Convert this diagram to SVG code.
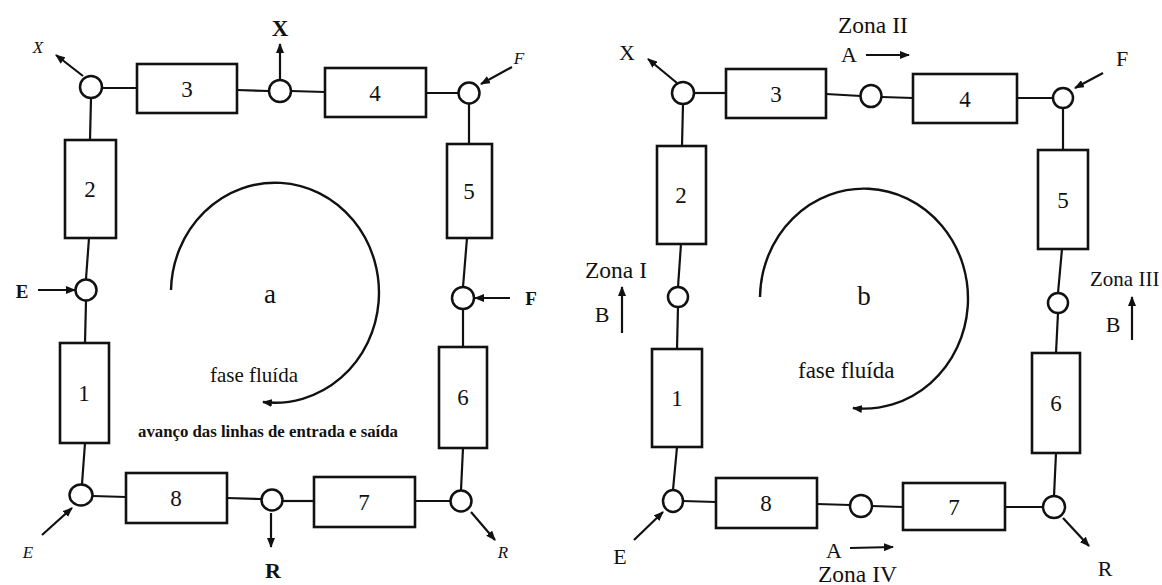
<svg xmlns="http://www.w3.org/2000/svg" width="1162" height="585" viewBox="0 0 1162 585">
<defs>
<marker id="ah" viewBox="0 0 10 8" refX="9" refY="4" markerWidth="10" markerHeight="8" markerUnits="userSpaceOnUse" orient="auto">
<path d="M0,0 L10,4 L0,8 z" fill="#111"/>
</marker>
</defs>
<style>
.box{fill:#fff;stroke:#111;stroke-width:2.6}
.nd{fill:#fff;stroke:#111;stroke-width:2.5}
.ln{fill:none;stroke:#111;stroke-width:2.2}
.ar{fill:none;stroke:#111;stroke-width:2.2;marker-end:url(#ah)}
.arc{fill:none;stroke:#111;stroke-width:2.4;marker-end:url(#ah)}
text{font-family:"Liberation Serif","Times New Roman",serif;fill:#111}
.num{font-size:23px;text-anchor:middle}
.it{font-style:italic;font-size:17px}
.bd{font-weight:bold;font-size:22px}
.lb{font-size:22px}
</style>
<rect width="1162" height="585" fill="#fff"/>

<!-- connectors -->
<g id="connectors">
<!-- panel a -->
<line class="ln" x1="102" y1="88" x2="137" y2="88"/>
<line class="ln" x1="237" y1="90" x2="269" y2="91"/>
<line class="ln" x1="291" y1="91" x2="325" y2="92"/>
<line class="ln" x1="426" y1="93" x2="459" y2="93"/>
<line class="ln" x1="469" y1="104" x2="469" y2="144"/>
<line class="ln" x1="467" y1="238" x2="463" y2="287"/>
<line class="ln" x1="463" y1="309" x2="463" y2="347"/>
<line class="ln" x1="463" y1="448" x2="461" y2="490"/>
<line class="ln" x1="450" y1="501" x2="415" y2="501"/>
<line class="ln" x1="314" y1="501" x2="283" y2="501"/>
<line class="ln" x1="261" y1="499" x2="227" y2="498"/>
<line class="ln" x1="126" y1="497" x2="93" y2="496"/>
<line class="ln" x1="82" y1="484" x2="85" y2="443"/>
<line class="ln" x1="85" y1="343" x2="86" y2="301"/>
<line class="ln" x1="86" y1="279" x2="89" y2="238"/>
<line class="ln" x1="90" y1="140" x2="91" y2="98"/>
<!-- panel a stream arrows -->
<line class="ar" x1="83" y1="76" x2="56" y2="55"/>
<line class="ar" x1="280" y1="80" x2="280" y2="44"/>
<line class="ar" x1="512" y1="67" x2="481" y2="84"/>
<line class="ar" x1="38" y1="290" x2="75" y2="290"/>
<line class="ar" x1="510" y1="298" x2="475" y2="298"/>
<line class="ar" x1="42" y1="535" x2="72" y2="508"/>
<line class="ar" x1="271" y1="513" x2="271" y2="547"/>
<line class="ar" x1="471" y1="512" x2="495" y2="540"/>
<path class="arc" d="M171,290 A104,110 0 1 1 263,402"/>

<!-- panel b -->
<line class="ln" x1="694" y1="93" x2="726" y2="93"/>
<line class="ln" x1="826" y1="94" x2="861" y2="96"/>
<line class="ln" x1="882" y1="97" x2="913" y2="98"/>
<line class="ln" x1="1017" y1="98" x2="1053" y2="98"/>
<line class="ln" x1="1063" y1="108" x2="1063" y2="150"/>
<line class="ln" x1="1062" y1="249" x2="1058" y2="293"/>
<line class="ln" x1="1058" y1="313" x2="1056" y2="353"/>
<line class="ln" x1="1056" y1="453" x2="1054" y2="496"/>
<line class="ln" x1="1043" y1="507" x2="1005" y2="507"/>
<line class="ln" x1="903" y1="507" x2="872" y2="506"/>
<line class="ln" x1="850" y1="505" x2="817" y2="504"/>
<line class="ln" x1="716" y1="502" x2="683" y2="501"/>
<line class="ln" x1="673" y1="490" x2="677" y2="447"/>
<line class="ln" x1="677" y1="349" x2="678" y2="307"/>
<line class="ln" x1="678" y1="287" x2="681" y2="244"/>
<line class="ln" x1="682" y1="146" x2="683" y2="104"/>
<!-- panel b arrows -->
<line class="ar" x1="677" y1="83" x2="648" y2="59"/>
<line class="ar" x1="1103" y1="73" x2="1075" y2="88"/>
<line class="ar" x1="634" y1="540" x2="663" y2="512"/>
<line class="ar" x1="1063" y1="518" x2="1089" y2="546"/>
<line class="ar" x1="866" y1="55" x2="909" y2="55"/>
<line class="ar" x1="850" y1="548" x2="893" y2="547"/>
<line class="ar" x1="622" y1="333" x2="622" y2="287"/>
<line class="ar" x1="1132" y1="340" x2="1132" y2="297"/>
<path class="arc" d="M760,297 A104,110 0 1 1 853,408"/>
</g>

<!-- panel a nodes -->
<g id="a-n-tl"><circle class="nd" cx="91" cy="87" r="11"/></g>
<g id="a-col3"><rect class="box" x="137" y="64" width="100" height="49"/><text class="num" x="187" y="97">3</text></g>
<g id="a-n-x"><circle class="nd" cx="280" cy="91" r="11"/></g>
<g id="a-col4"><rect class="box" x="325" y="68" width="101" height="49"/><text class="num" x="375" y="101">4</text></g>
<g id="a-n-tr"><circle class="nd" cx="469" cy="93" r="10.5"/></g>
<g id="a-col5"><rect class="box" x="447" y="144" width="45" height="94"/><text class="num" x="469" y="199">5</text></g>
<g id="a-n-f"><circle class="nd" cx="463" cy="298" r="11"/></g>
<g id="a-col6"><rect class="box" x="439" y="347" width="48" height="101"/><text class="num" x="463" y="405">6</text></g>
<g id="a-n-br"><circle class="nd" cx="461" cy="501" r="10.5"/></g>
<g id="a-col7"><rect class="box" x="314" y="477" width="101" height="50"/><text class="num" x="364" y="510">7</text></g>
<g id="a-n-r"><circle class="nd" cx="272" cy="500" r="10.5"/></g>
<g id="a-col8"><rect class="box" x="126" y="473" width="101" height="50"/><text class="num" x="176" y="506">8</text></g>
<g id="a-n-bl"><ellipse class="nd" cx="81" cy="495" rx="11.5" ry="10.5"/></g>
<g id="a-col1"><rect class="box" x="60" y="343" width="49" height="100"/><text class="num" x="84" y="401">1</text></g>
<g id="a-n-e"><circle class="nd" cx="86" cy="290" r="10.5"/></g>
<g id="a-col2"><rect class="box" x="65" y="140" width="51" height="98"/><text class="num" x="90" y="197">2</text></g>

<!-- panel a labels -->
<g id="a-labels">
<text class="it" x="38" y="53" text-anchor="middle">X</text>
<text class="bd" x="280" y="36" text-anchor="middle" style="font-size:23px">X</text>
<text class="it" x="519" y="64" text-anchor="middle">F</text>
<text class="bd" x="22" y="298" text-anchor="middle" style="font-size:19px">E</text>
<text class="bd" x="531" y="305" text-anchor="middle" style="font-size:19px">F</text>
<text class="it" x="28" y="558" text-anchor="middle">E</text>
<text class="bd" x="273" y="578" text-anchor="middle">R</text>
<text class="it" x="503" y="558" text-anchor="middle">R</text>
<text x="270" y="303" text-anchor="middle" style="font-size:27px">a</text>
<text x="254" y="382" text-anchor="middle" style="font-size:21px">fase fluída</text>
<text x="138" y="437" textLength="260" lengthAdjust="spacingAndGlyphs" style="font-size:16px;font-weight:bold">avanço das linhas de entrada e saída</text>
</g>

<!-- panel b nodes -->
<g id="b-n-tl"><circle class="nd" cx="683" cy="93" r="11"/></g>
<g id="b-col3"><rect class="box" x="726" y="69" width="100" height="49"/><text class="num" x="776" y="102">3</text></g>
<g id="b-n-t"><ellipse class="nd" cx="871" cy="96" rx="10.5" ry="11"/></g>
<g id="b-col4"><rect class="box" x="913" y="74" width="104" height="49"/><text class="num" x="965" y="107">4</text></g>
<g id="b-n-tr"><circle class="nd" cx="1063" cy="98" r="10"/></g>
<g id="b-col5"><rect class="box" x="1038" y="150" width="50" height="99"/><text class="num" x="1063" y="208">5</text></g>
<g id="b-n-r"><circle class="nd" cx="1058" cy="303" r="10"/></g>
<g id="b-col6"><rect class="box" x="1032" y="353" width="48" height="100"/><text class="num" x="1056" y="411">6</text></g>
<g id="b-n-br"><circle class="nd" cx="1054" cy="507" r="11"/></g>
<g id="b-col7"><rect class="box" x="903" y="483" width="102" height="47"/><text class="num" x="954" y="515">7</text></g>
<g id="b-n-b"><circle class="nd" cx="861" cy="506" r="11"/></g>
<g id="b-col8"><rect class="box" x="716" y="478" width="101" height="50"/><text class="num" x="766" y="511">8</text></g>
<g id="b-n-bl"><ellipse class="nd" cx="673" cy="501" rx="10" ry="11"/></g>
<g id="b-col1"><rect class="box" x="652" y="349" width="50" height="98"/><text class="num" x="677" y="406">1</text></g>
<g id="b-n-l"><circle class="nd" cx="678" cy="297" r="10"/></g>
<g id="b-col2"><rect class="box" x="657" y="146" width="49" height="98"/><text class="num" x="681" y="203">2</text></g>

<!-- panel b labels -->
<g id="b-labels">
<text class="lb" x="627" y="60" text-anchor="middle">X</text>
<text class="lb" x="1122" y="66" text-anchor="middle">F</text>
<text class="lb" x="620" y="564" text-anchor="middle">E</text>
<text class="lb" x="1105" y="576" text-anchor="middle">R</text>
<text class="lb" x="838" y="33" style="font-size:23.5px">Zona II</text>
<text class="lb" x="849" y="62" text-anchor="middle">A</text>
<text class="lb" x="585" y="278" style="font-size:23.5px">Zona I</text>
<text class="lb" x="602" y="322" text-anchor="middle">B</text>
<text class="lb" x="1090" y="286" style="font-size:21px">Zona III</text>
<text class="lb" x="1113" y="332" text-anchor="middle">B</text>
<text class="lb" x="834" y="558" text-anchor="middle">A</text>
<text class="lb" x="818" y="582" style="font-size:23.5px">Zona IV</text>
<text x="864" y="305" text-anchor="middle" style="font-size:27px">b</text>
<text x="798" y="378" style="font-size:23px">fase fluída</text>
</g>
</svg>
